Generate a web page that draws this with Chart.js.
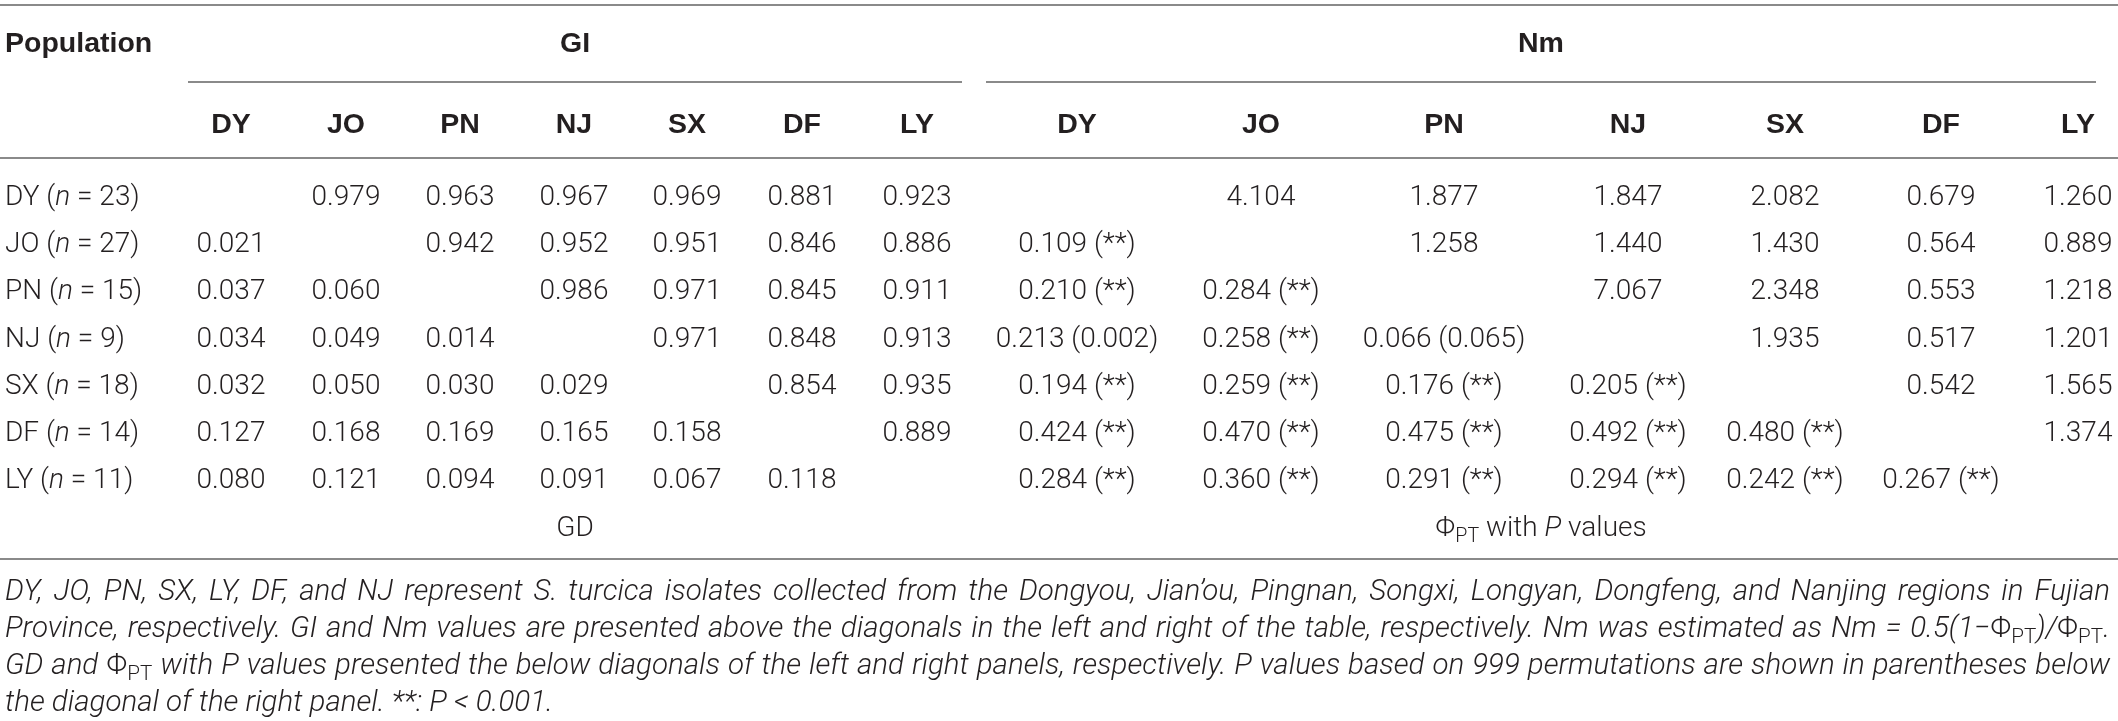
<!DOCTYPE html>
<html><head><meta charset="utf-8">
<script src="https://cdn.jsdelivr.net/npm/chart.js@4.4.1/dist/chart.umd.min.js"></script>
<style>html,body{margin:0;padding:0;background:#fff;overflow:hidden}canvas{display:block}</style>
</head><body>
<canvas id="c" width="2118" height="721"></canvas>
<script>
// ---------------- DATA ----------------
const populations = ['DY', 'JO', 'PN', 'NJ', 'SX', 'DF', 'LY'];
const sampleSizes = [23, 27, 15, 9, 18, 14, 11];
const headerLabel = 'Population';
const groupTitles = ['GI', 'Nm'];
const footTitles = ['GD', 'ΦPT with P values'];

// GI above diagonal (row i, col j > i)
const giUpper = [
  [null, 0.979, 0.963, 0.967, 0.969, 0.881, 0.923],
  [null, null, 0.942, 0.952, 0.951, 0.846, 0.886],
  [null, null, null, 0.986, 0.971, 0.845, 0.911],
  [null, null, null, null, 0.971, 0.848, 0.913],
  [null, null, null, null, null, 0.854, 0.935],
  [null, null, null, null, null, null, 0.889],
  [null, null, null, null, null, null, null]
];
// GD below diagonal (row i, col j < i)
const gdLower = [
  [],
  [0.021],
  [0.037, 0.060],
  [0.034, 0.049, 0.014],
  [0.032, 0.050, 0.030, 0.029],
  [0.127, 0.168, 0.169, 0.165, 0.158],
  [0.080, 0.121, 0.094, 0.091, 0.067, 0.118]
];
// Nm above diagonal
const nmUpper = [
  [null, 4.104, 1.877, 1.847, 2.082, 0.679, 1.260],
  [null, null, 1.258, 1.440, 1.430, 0.564, 0.889],
  [null, null, null, 7.067, 2.348, 0.553, 1.218],
  [null, null, null, null, 1.935, 0.517, 1.201],
  [null, null, null, null, null, 0.542, 1.565],
  [null, null, null, null, null, null, 1.374],
  [null, null, null, null, null, null, null]
];
// PhiPT below diagonal
const phiLower = [
  [],
  [0.109],
  [0.210, 0.284],
  [0.213, 0.258, 0.066],
  [0.194, 0.259, 0.176, 0.205],
  [0.424, 0.470, 0.475, 0.492, 0.480],
  [0.284, 0.360, 0.291, 0.294, 0.242, 0.267]
];
// P values (999 permutations) for PhiPT
const pLower = [
  [],
  ['**'],
  ['**', '**'],
  ['0.002', '**', '0.065'],
  ['**', '**', '**', '**'],
  ['**', '**', '**', '**', '**'],
  ['**', '**', '**', '**', '**', '**']
];

// ---------------- LAYOUT (pixel units on x, row units on y) ----------------
const ROW0 = 195, PITCH = 47.2, W = 2118, H = 721;
const rowOf = px => (px - ROW0) / PITCH;
const layout = {
  popX: 5,
  giX: [231, 346, 460, 574, 687, 802, 917],
  nmX: [1077, 1261, 1444, 1628, 1785, 1941, 2078],
  giSpan: [188, 962], nmSpan: [986, 2096],
  head1Row: rowOf(42), head2Row: rowOf(123), footRow: rowOf(526),
  topRule: rowOf(5), subRule: rowOf(82), headRule: rowOf(158), bottomRule: rowOf(559),
  captionRows: [rowOf(589), rowOf(626), rowOf(663), rowOf(700)], captionLeft: 5, captionRight: 2110
};
const INK = '#231f20';
const RULE = '#8a8a8a';
const bodyStyle = { size: 28, weight: 300, family: 'Roboto, "Liberation Sans", sans-serif', color: INK };
const boldStyle = { size: 28.5, weight: 700, family: '"Liberation Sans", Arial, sans-serif', color: INK };
const capStyle = { size: 29.5, weight: 300, family: 'Roboto, "Liberation Sans", sans-serif', color: INK, italic: true };

// ---------------- build datasets ----------------
const cells = [];
populations.forEach((p, i) => {
  populations.forEach((q, j) => {
    if (j > i) {
      cells.push({ x: layout.giX[j], y: i, runs: [{ t: giUpper[i][j].toFixed(3) }] });
      cells.push({ x: layout.nmX[j], y: i, runs: [{ t: nmUpper[i][j].toFixed(3) }] });
    } else if (j < i) {
      cells.push({ x: layout.giX[j], y: i, runs: [{ t: gdLower[i][j].toFixed(3) }] });
      cells.push({ x: layout.nmX[j], y: i, runs: [{ t: phiLower[i][j].toFixed(3) + ' (' + pLower[i][j] + ')' }] });
    }
  });
});
const rowLabels = populations.map((p, i) => ({
  x: layout.popX, y: i, align: 'left',
  runs: [{ t: p + ' (' }, { t: 'n', it: true }, { t: ' = ' + sampleSizes[i] + ')' }]
}));
const head1 = [
  { x: layout.popX, y: layout.head1Row, align: 'left', runs: [{ t: headerLabel }] },
  { x: (layout.giSpan[0] + layout.giSpan[1]) / 2, y: layout.head1Row, runs: [{ t: groupTitles[0] }] },
  { x: (layout.nmSpan[0] + layout.nmSpan[1]) / 2, y: layout.head1Row, runs: [{ t: groupTitles[1] }] }
];
const head2 = [];
populations.forEach((p, j) => {
  head2.push({ x: layout.giX[j], y: layout.head2Row, runs: [{ t: p }] });
  head2.push({ x: layout.nmX[j], y: layout.head2Row, runs: [{ t: p }] });
});
const foot = [
  { x: (layout.giSpan[0] + layout.giSpan[1]) / 2, y: layout.footRow, runs: [{ t: footTitles[0] }] },
  { x: (layout.nmSpan[0] + layout.nmSpan[1]) / 2, y: layout.footRow,
    runs: [{ t: 'Φ' }, { t: 'PT', sub: true }, { t: ' with ' }, { t: 'P', it: true }, { t: ' values' }] }
];
const PHI = [{ t: 'Φ', up: true }, { t: 'PT', sub: true, up: true }];
const captionLines = [
  [{ t: 'DY, JO, PN, SX, LY, DF, and NJ represent S. turcica isolates collected from the Dongyou, Jian’ou, Pingnan, Songxi, Longyan, Dongfeng, and Nanjing regions in Fujian' }],
  [{ t: 'Province, respectively. GI and Nm values are presented above the diagonals in the left and right of the table, respectively. Nm was estimated as Nm = 0.5(1−' }, ...PHI, { t: ')/' }, ...PHI, { t: '.' }],
  [{ t: 'GD and ' }, ...PHI, { t: ' with P values presented the below diagonals of the left and right panels, respectively. P values based on 999 permutations are shown in parentheses below' }],
  [{ t: 'the diagonal of the right panel. **: P < 0.001.' }]
];
const caption = captionLines.map((runs, i) => ({
  x: layout.captionLeft, y: layout.captionRows[i], align: 'left', justify: i < captionLines.length - 1, runs
}));

function rule(y, x0, x1) {
  return { showLine: true, borderColor: RULE, borderWidth: 2, pointRadius: 0, pointHitRadius: 0,
    data: [{ x: x0, y }, { x: x1, y }] };
}
function textSet(data, style) {
  return { data, textStyle: style, pointRadius: 0, pointHitRadius: 0, showLine: false };
}

// ---------------- text drawing ----------------
function fontOf(style, run) {
  const it = run.up ? false : (run.it || style.italic);
  const sz = run.sub ? style.size * 0.7 : style.size;
  return (it ? 'italic ' : '') + style.weight + ' ' + sz + 'px ' + style.family;
}
function tokenize(runs) {
  const toks = [];
  runs.forEach(r => {
    r.t.split(' ').forEach((p, k) => toks.push({ run: r, t: p, gap: k > 0 }));
  });
  return toks;
}
function drawRuns(ctx, d, x, y, style, chart) {
  const baseY = y + style.size * 0.36;
  ctx.fillStyle = style.color;
  ctx.textBaseline = 'alphabetic';
  ctx.textAlign = 'left';
  if (d.justify) {
    const toks = tokenize(d.runs);
    ctx.font = fontOf(style, {});
    const spaceW = ctx.measureText(' ').width;
    let natural = 0, gaps = 0;
    toks.forEach(tk => {
      ctx.font = fontOf(style, tk.run);
      tk.w = ctx.measureText(tk.t).width;
      natural += tk.w;
      if (tk.gap) { natural += spaceW; gaps++; }
    });
    const target = chart.scales.x.getPixelForValue(layout.captionRight) - x;
    let extra = gaps ? (target - natural) / gaps : 0;
    let sx = 1;
    if (extra < 0) { sx = target / natural; extra = 0; }
    ctx.save();
    ctx.translate(x, 0);
    ctx.scale(sx, 1);
    let cx = 0;
    toks.forEach(tk => {
      if (tk.gap) cx += spaceW + extra / sx;
      ctx.font = fontOf(style, tk.run);
      ctx.fillText(tk.t, cx, baseY + (tk.run.sub ? style.size * 0.22 : 0));
      cx += tk.w;
    });
    ctx.restore();
    return;
  }
  let total = 0;
  d.runs.forEach(r => { ctx.font = fontOf(style, r); r._w = ctx.measureText(r.t).width; total += r._w; });
  let cx = x;
  const align = d.align || 'center';
  if (align === 'center') cx = x - total / 2;
  else if (align === 'right') cx = x - total;
  d.runs.forEach(r => {
    ctx.font = fontOf(style, r);
    ctx.fillText(r.t, cx, baseY + (r.sub ? style.size * 0.22 : 0));
    cx += r._w;
  });
}
const textPlugin = {
  id: 'tableText',
  afterDatasetsDraw(chart) {
    const ctx = chart.ctx;
    chart.data.datasets.forEach((ds, di) => {
      if (!ds.textStyle) return;
      const meta = chart.getDatasetMeta(di);
      meta.data.forEach((el, k) => drawRuns(ctx, ds.data[k], el.x, el.y, ds.textStyle, chart));
    });
  }
};

new Chart(document.getElementById('c'), {
  type: 'scatter',
  data: {
    datasets: [
      rule(layout.topRule, 0, W),
      rule(layout.subRule, layout.giSpan[0], layout.giSpan[1]),
      rule(layout.subRule, layout.nmSpan[0], layout.nmSpan[1]),
      rule(layout.headRule, 0, W),
      rule(layout.bottomRule, 0, W),
      textSet(head1, boldStyle),
      textSet(head2, boldStyle),
      textSet(rowLabels, bodyStyle),
      textSet(cells, bodyStyle),
      textSet(foot, bodyStyle),
      textSet(caption, capStyle)
    ]
  },
  options: {
    responsive: false, animation: false, devicePixelRatio: 1, events: [],
    layout: { padding: 0 },
    plugins: { legend: { display: false }, tooltip: { enabled: false } },
    scales: {
      x: { type: 'linear', min: 0, max: W, display: false },
      y: { type: 'linear', reverse: true, min: rowOf(0), max: rowOf(H), display: false }
    }
  },
  plugins: [textPlugin]
});
</script>
</body></html>
